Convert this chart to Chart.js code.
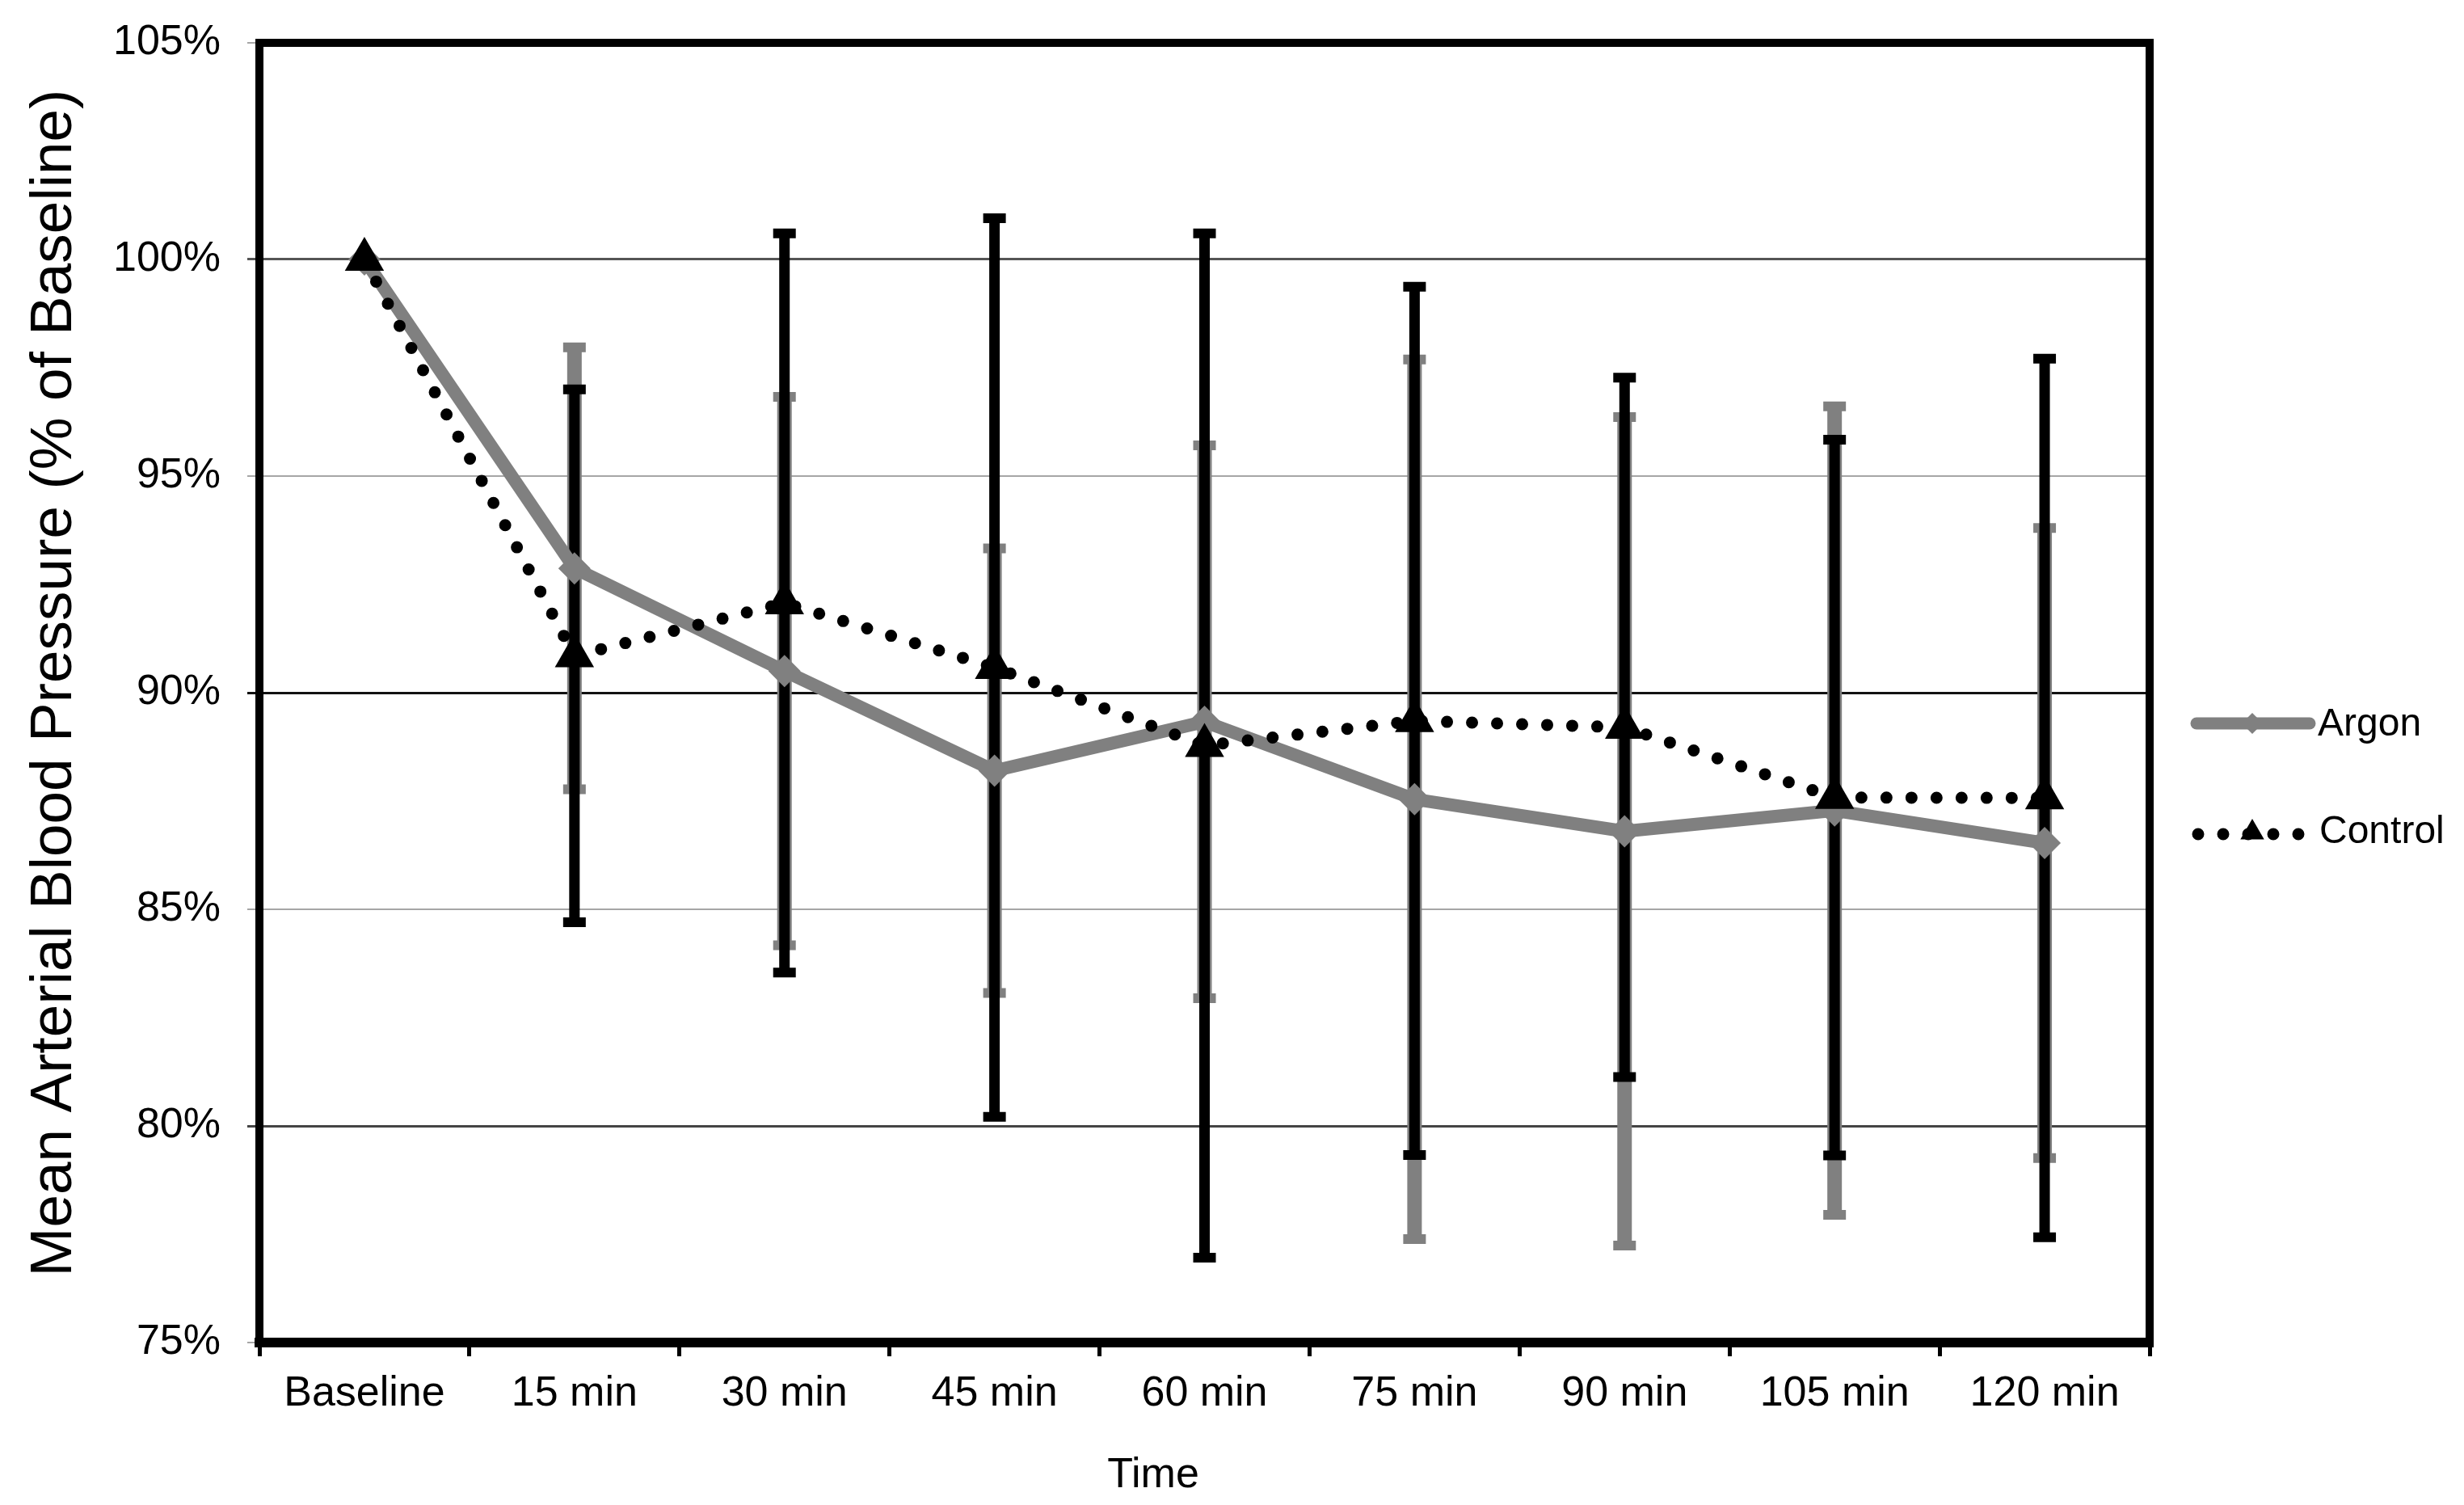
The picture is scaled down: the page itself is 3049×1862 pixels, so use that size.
<!DOCTYPE html>
<html>
<head>
<meta charset="utf-8">
<script src="https://cdn.jsdelivr.net/npm/chart.js@4.4.1/dist/chart.umd.min.js"></script>
<style>
  html, body { margin: 0; padding: 0; background: #fff; }
  #wrap { width: 3049px; height: 1862px; }
</style>
</head>
<body>
<div id="wrap"><canvas id="chartLine" width="3049" height="1862"></canvas></div>
<script>
const timeLabels = ["Baseline", "15 min", "30 min", "45 min", "60 min", "75 min", "90 min", "105 min", "120 min"];

// mean % of baseline and error bar (+/-)
const argonMean = [100, 92.87, 90.5, 88.2, 89.33, 87.54, 86.8, 87.28, 86.53];
const argonErr = [0, 5.1, 6.33, 5.13, 6.38, 10.15, 9.56, 9.33, 7.27];
const controlMean = [100, 90.85, 92.07, 90.58, 88.78, 89.35, 89.2, 87.58, 87.57];
const controlErr = [0, 6.15, 8.53, 10.37, 11.82, 10.02, 8.07, 8.26, 10.14];

const yTicks = [75, 80, 85, 90, 95, 100, 105];

const xTitle = "Time";
const yTitle = "Mean Arterial Blood Pressure (% of Baseline)";

const FONT = "'Liberation Sans', Arial, sans-serif";

function gridColor(v) {
  if (v === 100) return "#555555";
  if (v === 90) return "#111111";
  if (v === 80) return "#444444";
  return "#a6a6a6";
}

const errorBars = {
  id: "errorBars",
  beforeDatasetsDraw(chart) {
    const ctx = chart.ctx;
    const y = chart.scales.y;
    const sets = [
      { idx: 0, mean: argonMean, err: argonErr, color: "#808080", w: 18 },
      { idx: 1, mean: controlMean, err: controlErr, color: "#000000", w: 13 }
    ];
    ctx.save();
    sets.forEach(s => {
      const meta = chart.getDatasetMeta(s.idx);
      meta.data.forEach((pt, i) => {
        if (!s.err[i]) return;
        const top = y.getPixelForValue(s.mean[i] + s.err[i]);
        const bot = y.getPixelForValue(s.mean[i] - s.err[i]);
        ctx.strokeStyle = s.color;
        ctx.lineCap = "butt";
        ctx.lineWidth = s.w;
        ctx.beginPath();
        ctx.moveTo(pt.x, top);
        ctx.lineTo(pt.x, bot);
        ctx.stroke();
        ctx.lineWidth = 12;
        ctx.beginPath();
        ctx.moveTo(pt.x - 14, top);
        ctx.lineTo(pt.x + 14, top);
        ctx.moveTo(pt.x - 14, bot);
        ctx.lineTo(pt.x + 14, bot);
        ctx.stroke();
      });
    });
    ctx.restore();
  }
};

const frameAndLegend = {
  id: "frameAndLegend",
  afterDraw(chart) {
    const ctx = chart.ctx;
    const a = chart.chartArea;
    ctx.save();
    ctx.strokeStyle = "#000";
    ctx.lineWidth = 10;
    ctx.strokeRect(a.left, a.top, a.right - a.left, a.bottom - a.top);
    ctx.lineWidth = 12;
    ctx.beginPath();
    ctx.moveTo(a.left - 6, a.bottom);
    ctx.lineTo(a.right + 5, a.bottom);
    ctx.stroke();

    // axis titles
    ctx.fillStyle = "#000";
    ctx.textAlign = "center";
    ctx.textBaseline = "middle";
    ctx.font = "52px " + FONT;
    ctx.fillText(xTitle, 1427, 1826);
    ctx.save();
    ctx.translate(68, 845);
    ctx.rotate(-Math.PI / 2);
    ctx.font = "73px " + FONT;
    ctx.fillText(yTitle, 0, 0);
    ctx.restore();

    // legend
    const lx0 = 2718, lx1 = 2858, mid = 2787;
    const ds = chart.data.datasets;
    ctx.font = "48px " + FONT;
    ctx.textBaseline = "middle";
    ctx.textAlign = "left";

    let ly = 895;
    ctx.strokeStyle = ds[0].borderColor;
    ctx.lineWidth = 15;
    ctx.lineCap = "round";
    ctx.beginPath();
    ctx.moveTo(lx0, ly);
    ctx.lineTo(lx1, ly);
    ctx.stroke();
    ctx.fillStyle = ds[0].borderColor;
    Chart.helpers.drawPoint(ctx, { pointStyle: "rectRot", radius: 13, borderWidth: 0 }, mid, ly);
    ctx.fillStyle = "#000";
    ctx.fillText(ds[0].label, 2868, ly + 2);

    ly = 1028;
    ctx.strokeStyle = "#000";
    ctx.lineWidth = 15;
    ctx.setLineDash([0, 31]);
    ctx.beginPath();
    ctx.moveTo(lx0 + 2, ly + 4);
    ctx.lineTo(lx1 - 8, ly + 4);
    ctx.stroke();
    ctx.setLineDash([]);
    ctx.fillStyle = "#000";
    Chart.helpers.drawPoint(ctx, { pointStyle: "triangle", radius: 17, borderWidth: 0 }, mid, ly + 2);
    ctx.fillText(ds[1].label, 2870, ly + 2);
    ctx.restore();
  }
};

const data = {
  labels: timeLabels,
  datasets: [
    {
      label: "Argon",
      data: argonMean,
      borderColor: "#808080",
      backgroundColor: "#808080",
      borderWidth: 16,
      borderJoinStyle: "round",
      pointStyle: "rectRot",
      pointRadius: 20,
      pointBorderWidth: 0,
      pointBackgroundColor: "#808080",
      tension: 0,
      order: 2
    },
    {
      label: "Control",
      data: controlMean,
      borderColor: "#000000",
      backgroundColor: "#000000",
      borderWidth: 15,
      borderDash: [0, 31],
      borderCapStyle: "round",
      pointStyle: "triangle",
      pointRadius: 28,
      pointBorderWidth: 0,
      pointBackgroundColor: "#000000",
      tension: 0,
      order: 1
    }
  ]
};

const config = {
  type: "line",
  data,
  plugins: [errorBars, frameAndLegend],
  options: {
    responsive: false,
    animation: false,
    devicePixelRatio: 1,
    layout: { padding: { left: 0, top: 53, right: 389, bottom: 0 } },
    plugins: { legend: { display: false }, tooltip: { enabled: false } },
    scales: {
      x: {
        type: "category",
        offset: true,
        afterFit(scale) {
          scale.height = 201;
          scale.paddingLeft = 0;
          scale.paddingRight = 0;
        },
        grid: {
          offset: true,
          drawOnChartArea: false,
          drawTicks: true,
          tickLength: 17,
          tickWidth: 5,
          tickColor: "#000"
        },
        border: { display: false },
        ticks: {
          color: "#000",
          padding: 15,
          maxRotation: 0,
          font: { family: FONT, size: 52 }
        }
      },
      y: {
        min: 75,
        max: 105,
        afterFit(scale) {
          scale.width = 321;
          scale.paddingTop = 0;
          scale.paddingBottom = 0;
        },
        afterBuildTicks(scale) { scale.ticks = yTicks.map(v => ({ value: v })); },
        grid: {
          color: c => gridColor(c.tick.value),
          lineWidth: c => (gridColor(c.tick.value) === "#a6a6a6" ? 2 : 3),
          tickColor: c => gridColor(c.tick.value),
          tickLength: 15
        },
        border: { display: false },
        ticks: {
          color: "#000",
          padding: 33,
          font: { family: FONT, size: 52 },
          callback: v => v + "%"
        }
      }
    }
  }
};

var chartLine = new Chart(document.getElementById("chartLine"), config);
</script>
</body>
</html>
